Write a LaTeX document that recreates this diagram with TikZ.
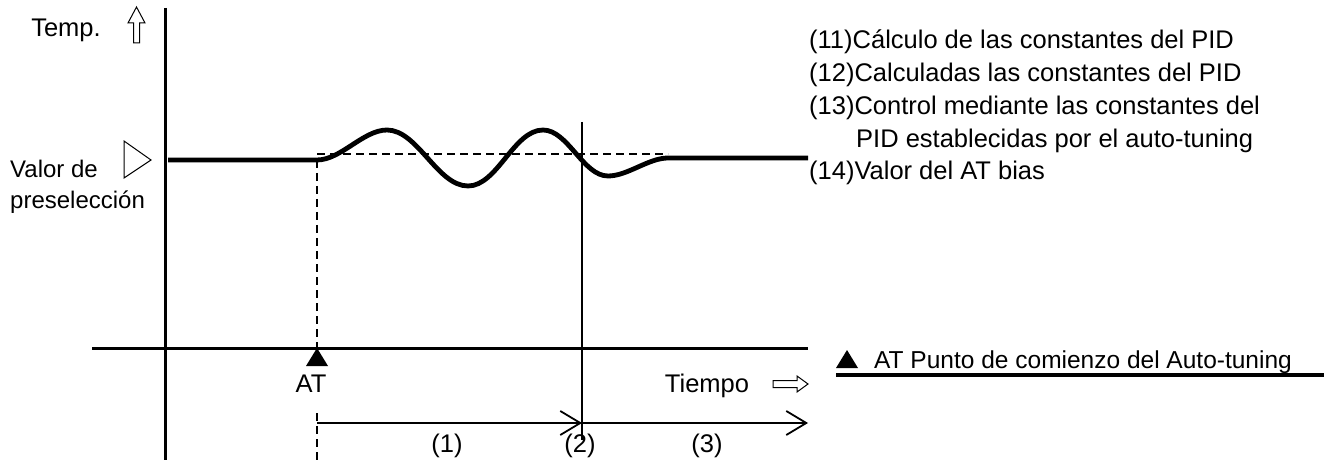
\documentclass[tikz,border=0pt]{standalone}
\usepackage{fontspec}
\setmainfont{Liberation Sans}
\usetikzlibrary{arrows.meta, positioning, calc}

\begin{document}
\begin{tikzpicture}[x=1pt, y=-1pt, every node/.style={font=\fontsize{25.5}{30}\selectfont, inner sep=0pt},
    axis/.style={line width=3pt},
    thinline/.style={line width=1.8pt},
    dashline/.style={line width=1.8pt, dash pattern=on 8pt off 5pt},
    heavy/.style={line width=4.8pt},
    hollow/.style={draw, line width=1pt, fill=white},
    span/.style={thinline, -{Straight Barb[length=20pt, width=24pt]}}]
  \useasboundingbox (0,0) rectangle (1324,470);
  % axes
  \coordinate (ytop) at (165,8);  \coordinate (ybot) at (165,460);
  \coordinate (xorig) at (92,348); \coordinate (xend) at (808,348);
  \draw[axis] (ytop) -- (ybot);
  \draw[axis] (xorig) -- (xend);
  \node[anchor=base] (temp) at (66,37) {Temp.};
  \draw[hollow] (133.5,43) -- (133.5,23) -- (128,23) -- (136.5,7) -- (145,23) -- (139.5,23) -- (139.5,43) -- cycle;
  \node[anchor=base] (tiempo) at (707,392) {Tiempo};
  \draw[hollow] (773,380.5) -- (797,380.5) -- (797,376) -- (808,384) -- (797,392) -- (797,387.5) -- (773,387.5) -- cycle;
  % set value
  \node[anchor=base west, font=\fontsize{24}{28}\selectfont] (valor) at (10,178) {Valor de};
  \node[anchor=base west, font=\fontsize{24}{28}\selectfont] (presel) at (10,209) {preselección};
  \draw[hollow] (124,141) -- (151,160) -- (124,178) -- cycle;
  \coordinate (atpt) at (317,348);
  \draw[dashline] (317,154) -- (668,154);
  \draw[dashline] (317,160) -- (atpt);
  % response
  \draw[heavy, looseness=0.8] (168,160) -- (317,160) to[out=0, in=180] (387,130) to[out=0, in=180] (468,186)
    to[out=0, in=180] (543,130) to[out=0, in=180] (608,176) to[out=0, in=180] (668,158) -- (808,158);
  \coordinate (ptop) at (582,122); \coordinate (pbot) at (582,440);
  \draw[thinline] (ptop) -- (pbot);
  % AT mark
  \fill (atpt) -- (328,366) -- (306,366) -- cycle;
  \node[anchor=base] (atlbl) at (311,392) {AT};
  \coordinate (atb) at (317,413); \coordinate (atbb) at (317,460);
  \draw[dashline] (atb) -- (atbb);
  \coordinate (sa) at (317,423); \coordinate (sb) at (582,423); \coordinate (sc) at (808,423);
  \draw[span] (sa) -- (sb);
  \draw[span] (sb) -- (sc);
  \node[anchor=base] (ph1) at (447,452) {(1)};
  \node[anchor=base] (ph2) at (580,452) {(2)};
  \node[anchor=base] (ph3) at (707,452) {(3)};
  % legend
  \node[anchor=west] (l11) at (809,42) {(11)Cálculo de las constantes del PID};
  \node[anchor=west] (l12) at (809,75) {(12)Calculadas las constantes del PID};
  \node[anchor=west] (l13) at (809,108) {(13)Control mediante las constantes del};
  \node[anchor=west] (l13b) at (856,141) {PID establecidas por el auto-tuning};
  \node[anchor=west] (l14) at (809,173) {(14)Valor del AT bias};
  \fill (836,368) -- (858,368) -- (847,350) -- cycle;
  \node[anchor=base west, font=\fontsize{24.5}{29}\selectfont] (legat) at (874,368) {AT Punto de comienzo del Auto-tuning};
  \draw[heavy] (836,375) -- (1324,375);
\end{tikzpicture}
\end{document}
